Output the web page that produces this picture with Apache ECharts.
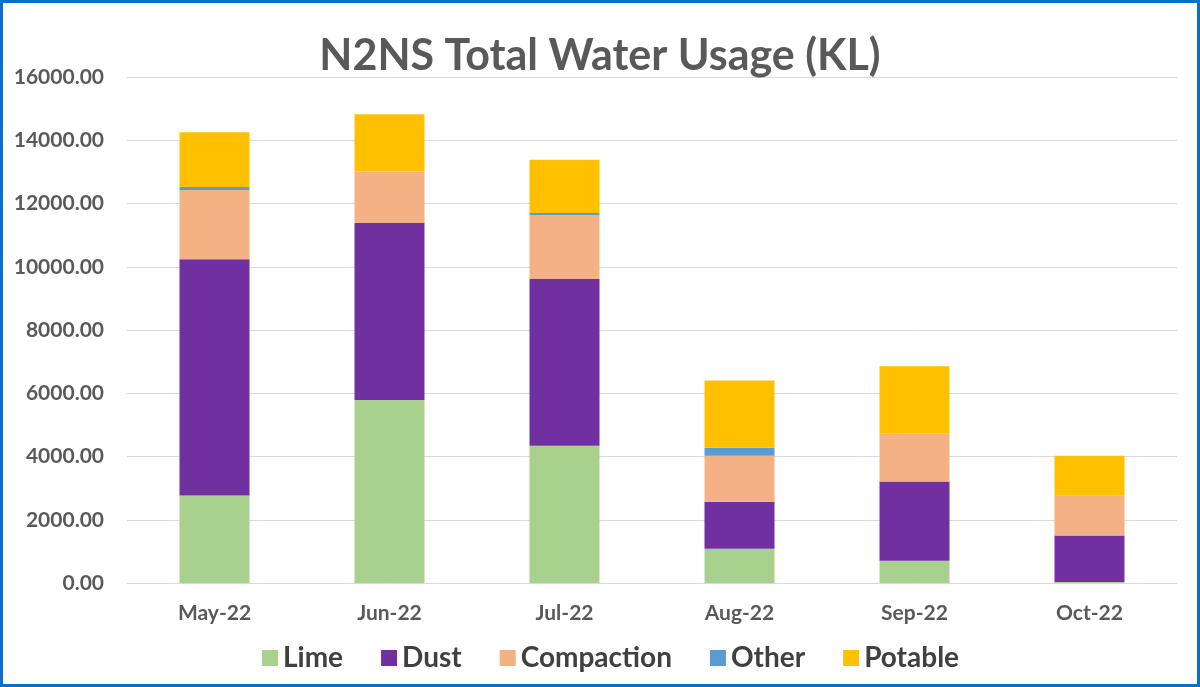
<!DOCTYPE html>
<html>
<head>
<meta charset="utf-8">
<script src="https://cdn.jsdelivr.net/npm/echarts@6/dist/echarts.min.js"></script>
<style>
html,body{margin:0;padding:0;background:#fff;}
#frame{width:1200px;height:687px;box-sizing:border-box;border:3px solid #0b6fc4;position:relative;}
#chart{position:absolute;left:-3px;top:-3px;width:1200px;height:687px;}
</style>
</head>
<body>
<div id="frame"><div id="chart"></div></div>
<script>
const categories = ['May-22','Jun-22','Jul-22','Aug-22','Sep-22','Oct-22'];
const lime       = [2770, 5790, 4340, 1080, 700, 30];
const dust       = [7470, 5590, 5270, 1490, 2510, 1470];
const compaction = [2190, 1630, 2030, 1450, 1510, 1260];
const other      = [90, 0, 60, 260, 0, 0];
const potable    = [1730, 1810, 1680, 2120, 2130, 1260];
const seriesNames = ['Lime','Dust','Compaction','Other','Potable'];
const colors = ['#a9d18e','#7030a0','#f4b183','#5b9bd5','#ffc000'];
const dataSets = [lime, dust, compaction, other, potable];

const chart = echarts.init(document.getElementById('chart'), null, {renderer:'canvas'});
chart.setOption({
  animation:false,
  color: colors,
  title:{
    text:'N2NS Total Water Usage (KL)',
    left:'center', top:30,
    textStyle:{fontFamily:'Lato', fontWeight:'bold', fontSize:43, color:'#595959'}
  },
  legend:{
    bottom:10, left:257, itemWidth:16, itemHeight:16, itemGap:38,
    icon:'rect',
    textStyle:{fontFamily:'Lato', fontWeight:'bold', fontSize:28, color:'#404040'},
    data: seriesNames
  },
  grid:{left:127, right:23, top:77, bottom:104},
  xAxis:{
    type:'category', data:categories,
    axisLine:{lineStyle:{color:'#d9d9d9'}},
    axisTick:{show:false},
    axisLabel:{fontFamily:'Lato', fontWeight:'bold', fontSize:21, color:'#595959', margin:20}
  },
  yAxis:{
    type:'value', min:0, max:16000, interval:2000,
    axisLabel:{fontFamily:'Lato', fontWeight:'bold', fontSize:21, color:'#595959', margin:23,
      formatter:v=>v.toFixed(2)},
    splitLine:{lineStyle:{color:'#d9d9d9', width:1}}
  },
  series: seriesNames.map((n,i)=>({
    name:n, type:'bar', stack:'total', barWidth:'40%',
    data: dataSets[i],
    itemStyle:{color:colors[i]}
  }))
});
</script>
</body>
</html>
